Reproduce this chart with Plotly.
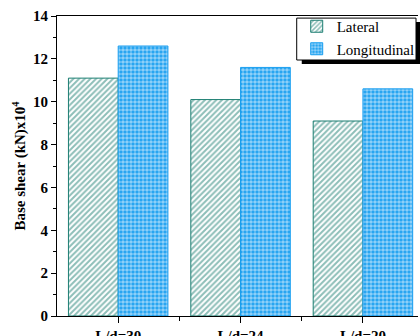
import plotly.graph_objects as go

categories = ["L/d=30", "L/d=24", "L/d=20"]
lateral = [11.1, 10.1, 9.1]
longitudinal = [12.6, 11.6, 10.6]
y_ticks = [0, 2, 4, 6, 8, 10, 12, 14]

xpos = list(range(len(categories)))
FONT = "Liberation Serif"
TEAL = "#1C7E72"
BLUE = "#1A9FF0"

fig = go.Figure()
fig.add_trace(go.Bar(
    x=xpos, y=lateral, name="Lateral",
    marker=dict(color="white", line=dict(color=TEAL, width=1),
                pattern=dict(shape="/", fgcolor=TEAL, bgcolor="white", size=4, solidity=0.5)),
))
fig.add_trace(go.Bar(
    x=xpos, y=longitudinal, name="Longitudinal",
    marker=dict(color=BLUE, line=dict(color=BLUE, width=1),
                pattern=dict(shape=".", fgcolor="white", bgcolor=BLUE, size=4, solidity=0.65)),
))

fig.update_layout(
    width=420, height=336,
    margin=dict(l=57, r=0, t=16, b=20),
    paper_bgcolor="white", plot_bgcolor="white",
    barmode="group", bargap=0.187, bargroupgap=0,
    font=dict(family=FONT, size=14, color="black"),
    showlegend=True,
    legend=dict(x=0.664, y=1.02, xanchor="left", yanchor="top",
                bgcolor="rgba(0,0,0,0)", borderwidth=0,
                font=dict(family=FONT, size=15, color="black"),
                tracegroupgap=0, itemwidth=30),
    xaxis=dict(range=[-0.5, 2.45], tickvals=xpos, ticktext=categories, automargin=False,
               showline=True, linecolor="black", linewidth=1,
               mirror=True, ticks="outside", ticklen=6, tickcolor="black",
               showgrid=False, zeroline=False, ticklabelstandoff=0,
               tickfont=dict(family=FONT, size=15, color="black", weight="bold"),
               minor=dict(tickvals=[0.5, 1.5], ticks="outside", ticklen=4, tickcolor="black")),
    yaxis=dict(range=[0, 14], tickvals=y_ticks, showline=True, linecolor="black", linewidth=1,
               automargin=False,
               ticks="outside", ticklen=5, tickcolor="black", showgrid=False, zeroline=False,
               tickfont=dict(family=FONT, size=15, color="black", weight="bold"),
               minor=dict(ticks="outside", ticklen=3, tickcolor="black", dtick=1),
               title=dict(text="Base shear (kN)x10<sup>4</sup>", standoff=3,
                          font=dict(family=FONT, size=15, color="black", weight="bold"))),
)
# legend shadow and box
fig.add_shape(type="rect", xref="paper", yref="paper", layer="above",
              x0=0.678, x1=1.02, y0=0.84, y1=0.98,
              fillcolor="black", line=dict(width=0))
fig.add_shape(type="rect", xref="paper", yref="paper", layer="above",
              x0=0.664, x1=0.9945, y0=0.8533, y1=0.993,
              fillcolor="white", line=dict(color="black", width=1))
fig.write_html("out.html")
